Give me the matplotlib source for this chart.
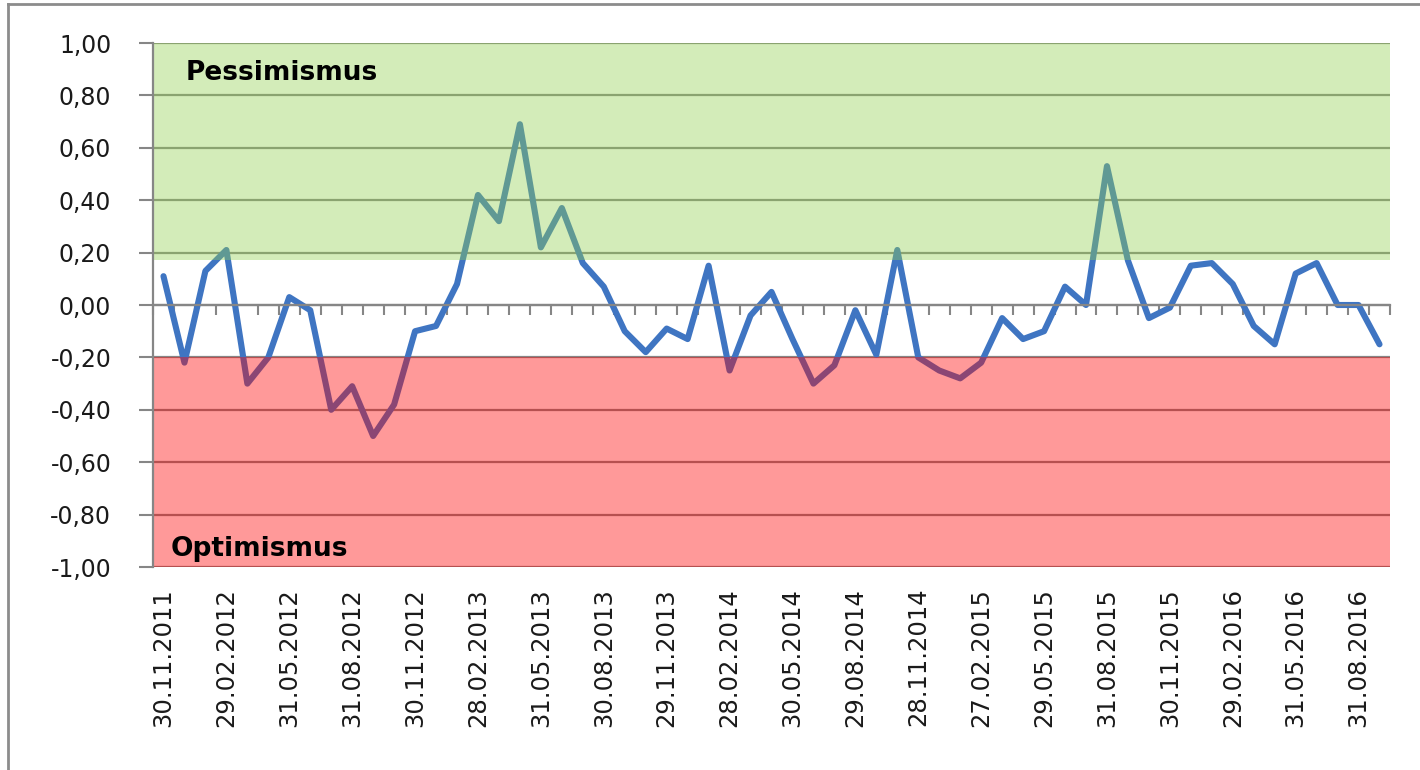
import matplotlib
matplotlib.use("Agg")
import matplotlib.pyplot as plt
from matplotlib.ticker import FuncFormatter, FixedLocator
from matplotlib.lines import Line2D

# Sentiment-Werte, monatlich von 30.11.2011 bis 30.09.2016
werte = [
    0.11, -0.22, 0.13, 0.21, -0.30, -0.20, 0.03, -0.02, -0.40, -0.31,
    -0.50, -0.38, -0.10, -0.08, 0.08, 0.42, 0.32, 0.69, 0.22, 0.37,
    0.16, 0.07, -0.10, -0.18, -0.09, -0.13, 0.15, -0.25, -0.04, 0.05,
    -0.13, -0.30, -0.23, -0.02, -0.19, 0.21, -0.20, -0.25, -0.28, -0.22,
    -0.05, -0.13, -0.10, 0.07, 0.00, 0.53, 0.17, -0.05, -0.01, 0.15,
    0.16, 0.08, -0.08, -0.15, 0.12, 0.16, 0.00, 0.00, -0.15,
]

# Beschriftungen (jeder dritte Monat)
tick_labels = [
    "30.11.2011", "29.02.2012", "31.05.2012", "31.08.2012", "30.11.2012",
    "28.02.2013", "31.05.2013", "30.08.2013", "29.11.2013", "28.02.2014",
    "30.05.2014", "29.08.2014", "28.11.2014", "27.02.2015", "29.05.2015",
    "31.08.2015", "30.11.2015", "29.02.2016", "31.05.2016", "31.08.2016",
]

# Zonen
pessimismus_ab = 0.17
optimismus_bis = -0.20
y_min, y_max = -1.0, 1.0

n = len(werte)
x = list(range(n))

fig = plt.figure(figsize=(14.2, 7.7), dpi=100)
ax = fig.add_axes([153 / 1420, 1 - 567 / 770, 1237 / 1420, 524 / 770])

grau = "#868686"

ax.plot(x, werte, color="#3F75C2", linewidth=4.4, solid_joinstyle="round",
        solid_capstyle="round", zorder=2)

# Zonen halbtransparent über der Linie
ax.axhspan(pessimismus_ab, y_max, color="#92D050", alpha=0.40, lw=0, zorder=3)
ax.axhspan(y_min, optimismus_bis, color="#FF0000", alpha=0.40, lw=0, zorder=3)

ax.set_xlim(-0.5, n - 0.5)
ax.set_ylim(y_min, y_max)

# y-Achse
ax.set_yticks([y_min + 0.2 * k for k in range(11)])
ax.yaxis.set_major_formatter(FuncFormatter(lambda v, p: f"{v:.2f}".replace(".", ",")))
ax.tick_params(axis="y", direction="out", length=10, width=1.5, color=grau,
               pad=20, labelsize=17, labelcolor="#1a1a1a")
ax.grid(axis="y", color=grau, linewidth=1.6, zorder=1)
ax.set_axisbelow(True)

# x-Achse bei 0 mit Teilstrichen zwischen den Monaten
ax.spines["bottom"].set_position(("data", 0))
ax.spines["bottom"].set_color(grau)
ax.spines["bottom"].set_linewidth(1.6)
ax.xaxis.set_major_locator(FixedLocator([i - 0.5 for i in range(n + 1)]))
ax.tick_params(axis="x", direction="out", length=7, width=1.5, color=grau,
               labelbottom=False)
ax.spines["left"].set_color(grau)
ax.spines["left"].set_linewidth(1.6)
ax.spines["left"].set_zorder(4)
ax.spines["top"].set_visible(False)
ax.spines["right"].set_visible(False)

# Datumsbeschriftung unten
sec = ax.secondary_xaxis("bottom")
sec.set_xticks(list(range(0, n, 3)), tick_labels, rotation=90)
sec.spines["bottom"].set_visible(False)
sec.tick_params(length=0, pad=15, labelsize=17.5, labelcolor="#1a1a1a")

ax.text(0.026, 0.943, "Pessimismus", transform=ax.transAxes, fontsize=19,
        fontweight="bold", color="black", va="center", ha="left", zorder=5)
ax.text(0.014, 0.035, "Optimismus", transform=ax.transAxes, fontsize=19,
        fontweight="bold", color="black", va="center", ha="left", zorder=5)

# Rahmen oben und links
fig.add_artist(Line2D([8 / 1420, 8 / 1420], [0, 1 - 4 / 770], color="#8c8c8c", lw=2))
fig.add_artist(Line2D([8 / 1420, 1], [1 - 4 / 770, 1 - 4 / 770], color="#8c8c8c", lw=2))

fig.savefig("out.png", dpi=100)
